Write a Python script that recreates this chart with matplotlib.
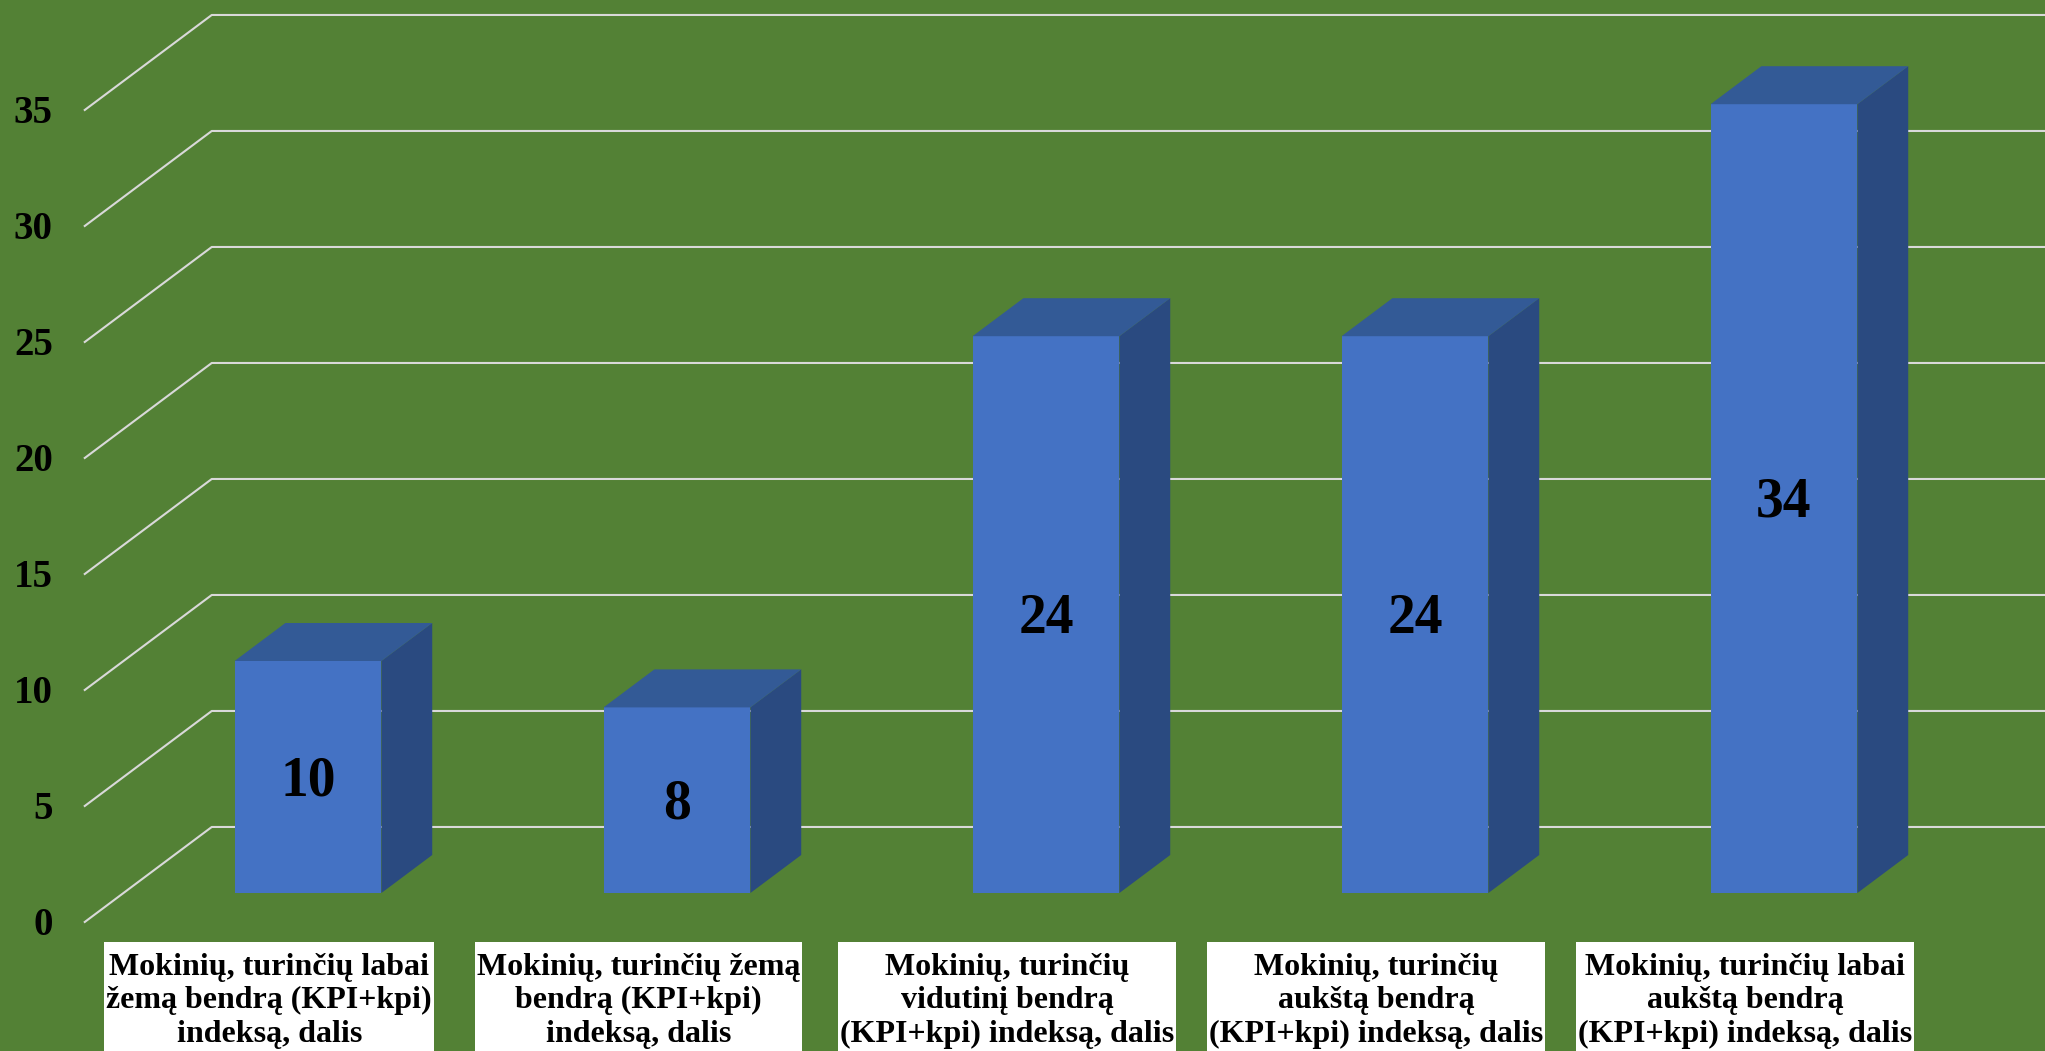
import numpy as np
import matplotlib.pyplot as plt
from matplotlib.patches import Polygon, Rectangle
from matplotlib.transforms import IdentityTransform

# Data
categories = [
    "Mokinių, turinčių labai\nžemą bendrą (KPI+kpi)\nindeksą, dalis",
    "Mokinių, turinčių žemą\nbendrą (KPI+kpi)\nindeksą, dalis",
    "Mokinių, turinčių\nvidutinį bendrą\n(KPI+kpi) indeksą, dalis",
    "Mokinių, turinčių\naukštą bendrą\n(KPI+kpi) indeksą, dalis",
    "Mokinių, turinčių labai\naukštą bendrą\n(KPI+kpi) indeksą, dalis",
]
values = [10, 8, 24, 24, 34]
y_ticks = [0, 5, 10, 15, 20, 25, 30, 35]

# Colours
green = '#538135'
face_color = '#4472C4'
top_color = '#335A96'
side_color = '#2A4A80'
grid_color = '#D9D9D9'
serif = 'Liberation Serif'

W, H = 2045, 1051
fig = plt.figure(figsize=(W / 100, H / 100), dpi=100, facecolor=green)
ax = fig.add_axes([123.5 / W, 158 / H, 1845 / W, 812 / H])
ax.set_xlim(-0.5, 4.5)
ax.set_ylim(0, 35)
ax.axis('off')

# 3D depth vector in data units (category, value)
DX = 127 / 369
DY = 95 / 23.2
d_front, d_back = 0.305, 0.705  # depth of bar front / back faces


def at_depth(x, y, d):
    # point (x, y) of the bar front plane moved to depth d (0 = front wall, 1 = back wall)
    return (x + (d - d_front) * DX, y + (d - d_front) * DY)


# Grid: side wall diagonals + back wall horizontals
for v in y_ticks:
    p0 = at_depth(-0.5, v, 0)
    p1 = at_depth(-0.5, v, 1)
    p2 = at_depth(6.0, v, 1)
    ax.plot([p0[0], p1[0], p2[0]], [p0[1], p1[1], p2[1]], color=grid_color,
            lw=1.5, clip_on=False, zorder=1)
    ax.annotate(str(v), xy=p0, xytext=(-32, -13), textcoords='offset pixels',
                ha='right', va='baseline', fontsize=28, fontweight='bold',
                family=serif, color='black', annotation_clip=False)

# Bars
x = np.arange(len(values))
w = 0.398
ax.bar(x, values, width=w, color=face_color, zorder=3, clip_on=False)
for xi, v in zip(x, values):
    side = [(xi + w / 2, 0), at_depth(xi + w / 2, 0, d_back),
            at_depth(xi + w / 2, v, d_back), (xi + w / 2, v)]
    top = [(xi - w / 2, v), (xi + w / 2, v),
           at_depth(xi + w / 2, v, d_back), at_depth(xi - w / 2, v, d_back)]
    ax.add_patch(Polygon(side, closed=True, facecolor=side_color, edgecolor='none',
                         zorder=3, clip_on=False))
    ax.add_patch(Polygon(top, closed=True, facecolor=top_color, edgecolor='none',
                         zorder=3, clip_on=False))
    ax.annotate(str(v), xy=(xi, v / 2), xytext=(0, -18), textcoords='offset pixels',
                ha='center', va='baseline', fontsize=40, fontweight='bold',
                family=serif, color='black', zorder=4)

# Category labels
labels = []
for xi, label in zip(x, categories):
    t = ax.annotate(label, xy=at_depth(xi, 0, 0), xytext=(0, -31), textcoords='offset pixels',
                    ha='center', va='top', fontsize=23, fontweight='bold', family=serif,
                    color='black', linespacing=1.2, multialignment='center',
                    annotation_clip=False, zorder=5)
    labels.append(t)

# White boxes behind the labels: from 20 px under the floor edge down to the bottom
fig.canvas.draw()
renderer = fig.canvas.get_renderer()
floor_y = ax.transData.transform(at_depth(0, 0, 0))[1]
for t in labels:
    bb = t.get_window_extent(renderer)
    box_top = floor_y - 20
    fig.add_artist(Rectangle((bb.x0 - 2, -5), bb.width + 4, box_top + 5,
                             facecolor='white', edgecolor='none',
                             transform=IdentityTransform(), zorder=-1))

fig.savefig('out.png', dpi=100, facecolor=green)
